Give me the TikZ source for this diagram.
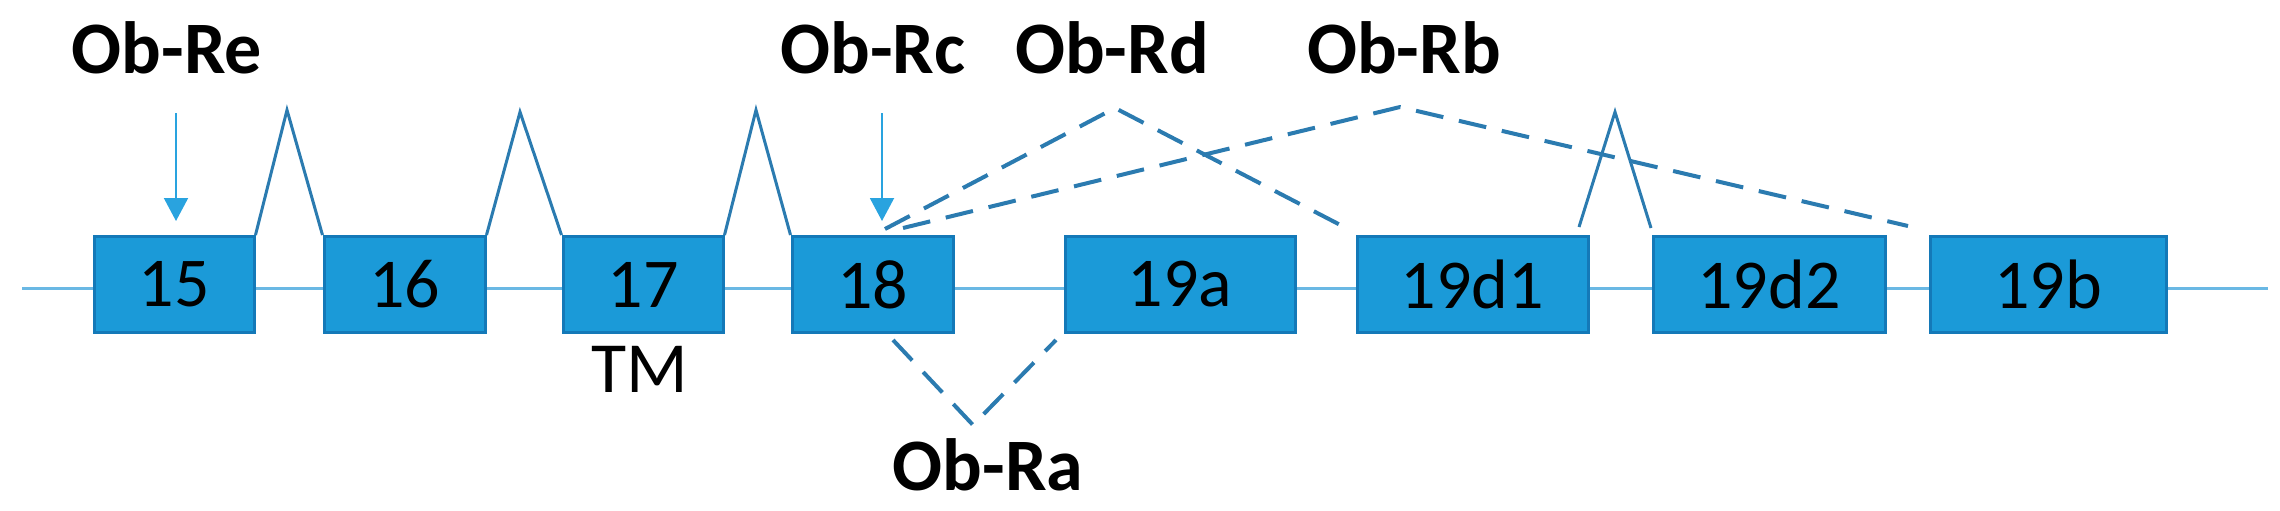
\documentclass[tikz,border=0pt]{standalone}
\usepackage{fontspec}
\setmainfont{Carlito}
\usetikzlibrary{arrows.meta}

\definecolor{exonblue}{RGB}{27,154,216}
\definecolor{exonedge}{RGB}{20,121,184}
\definecolor{splice}{RGB}{43,123,176}
\definecolor{axisblue}{RGB}{106,184,228}
\definecolor{pointer}{RGB}{41,163,223}

\tikzset{every picture/.style={line width=0.75pt}}
\tikzset{
  exon/.style={draw=exonedge, fill=exonblue, line width=1.5pt, minimum height=48pt, inner sep=0pt, font=\fontsize{35}{40}\selectfont},
  isoform/.style={anchor=base, inner sep=0pt, font=\fontsize{37}{42}\selectfont\bfseries},
  note/.style={anchor=base, inner sep=0pt, font=\fontsize{36}{40}\selectfont},
  intron/.style={draw=splice, line width=1.5pt},
  skip/.style={draw=splice, line width=2pt, dash pattern=on 14pt off 8pt},
  axis/.style={draw=axisblue, line width=1.5pt},
  pointer/.style={draw=pointer, line width=1pt, -{Triangle[width=12pt,length=11.5pt]}}
}

\begin{document}
\begin{tikzpicture}[x=0.5pt,y=0.5pt,yscale=-1]
  \useasboundingbox (0,0) rectangle (2280,510);

  %Straight Lines: axis
  \coordinate (axisL) at (22,288);
  \coordinate (axisR) at (2268,288);
  \draw[axis] (axisL) -- (axisR);

  %Shape: Rectangle exons
  \node[exon, minimum width=80pt] (e15) at (174,284.5) {15};
  \node[exon, minimum width=80.5pt] (e16) at (404.5,284.5) {16};
  \node[exon, minimum width=80pt] (e17) at (643,284.5) {17};
  \node[exon, minimum width=80.5pt] (e18) at (872.5,284.5) {18};
  \node[exon, minimum width=115pt] (e19a) at (1180,284.5) {19a};
  \node[exon, minimum width=115.5pt] (e19d1) at (1472.5,284.5) {19d1};
  \node[exon, minimum width=116pt] (e19d2) at (1769,284.5) {19d2};
  \node[exon, minimum width=118pt] (e19b) at (2048,284.5) {19b};

  %Straight Lines: introns
  \coordinate (i1) at (287,110);
  \coordinate (i2) at (520,112);
  \coordinate (i3) at (756,110);
  \coordinate (i4) at (1615,112);
  \coordinate (i4L) at (1579,227);
  \coordinate (i4R) at (1651,228);
  \draw[intron] (e15.north east) -- (i1) -- (e16.north west);
  \draw[intron] (e16.north east) -- (i2) -- (e17.north west);
  \draw[intron] (e17.north east) -- (i3) -- (e18.north west);
  \draw[intron] (i4L) -- (i4) -- (i4R);

  %Dashed Lines: alternative splicing
  \coordinate (s18d) at (885,229);
  \coordinate (s18b) at (903,228);
  \coordinate (pRd) at (1115,108);
  \coordinate (pRb) at (1400,107);
  \coordinate (eRd) at (1350,230);
  \coordinate (eRb) at (1908,226);
  \draw[skip] (s18d) -- (pRd) -- (eRd);
  \draw[skip] (s18b) -- (pRb) -- (eRb);
  \coordinate (aL) at (893,340);
  \coordinate (aV) at (973,425);
  \coordinate (aR) at (1056,340);
  \draw[skip] (aL) -- (aV) -- (aR);

  %Arrows: start sites
  \coordinate (reTop) at (176,113);
  \coordinate (reTip) at (176,221);
  \coordinate (rcTop) at (882,113);
  \coordinate (rcTip) at (882,221);
  \draw[pointer] (reTop) -- (reTip);
  \draw[pointer] (rcTop) -- (rcTip);

  % Text Node
  \node[isoform] (obre) at (167,73) {Ob-Re};
  % Text Node
  \node[isoform] (obrc) at (873,73) {Ob-Rc};
  % Text Node
  \node[isoform] (obrd) at (1112,73) {Ob-Rd};
  % Text Node
  \node[isoform] (obrb) at (1404,73) {Ob-Rb};
  % Text Node
  \node[isoform] (obra) at (988,490) {Ob-Ra};
  % Text Node
  \node[note] (tm) at (640,392) {TM};

\end{tikzpicture}
\end{document}
